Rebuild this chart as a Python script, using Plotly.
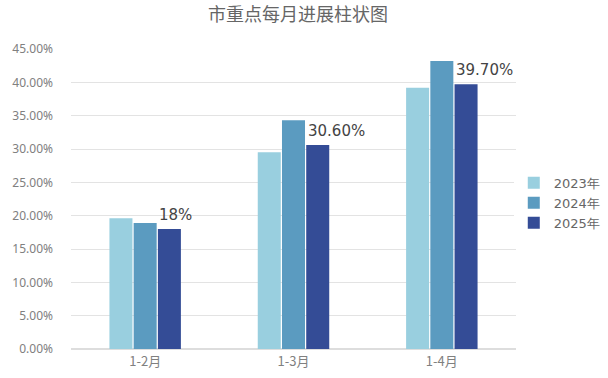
import plotly.graph_objects as go

categories = ["1-2月", "1-3月", "1-4月"]
series_names = ["2023年", "2024年", "2025年"]
values_2023 = [0.196, 0.295, 0.392]
values_2024 = [0.189, 0.343, 0.432]
values_2025 = [0.180, 0.306, 0.397]
labels_2025 = ["18%", "30.60%", "39.70%"]
colors = ["#99CFDF", "#5B9BC0", "#344C96"]
y_ticks = [0, 0.05, 0.10, 0.15, 0.20, 0.25, 0.30, 0.35, 0.40, 0.45]

fig = go.Figure()
for name, vals, col in zip(series_names, [values_2023, values_2024, values_2025], colors):
    fig.add_trace(go.Bar(x=categories, y=vals, name=name, marker=dict(color=col, line=dict(width=0)),
                         hoverinfo="skip"))

for cat, val, lab in zip(categories, values_2025, labels_2025):
    fig.add_annotation(x=cat, y=val, xref="x", yref="y", text=lab, showarrow=False,
                       xanchor="left", yanchor="bottom", xshift=12, yshift=3,
                       font=dict(family="DejaVu Sans", size=15, color="#444444"))

fig.update_layout(
    width=608, height=378,
    margin=dict(l=71, r=92, t=49, b=29, autoexpand=False),
    paper_bgcolor="white", plot_bgcolor="white",
    barmode="group", bargap=0.51, bargroupgap=0.05,
    title=dict(text="市重点每月进展柱状图", x=0.49, xanchor="center", y=0.962, yanchor="middle",
               font=dict(family="Noto Sans CJK SC", size=18, color="#666666")),
    legend=dict(x=0.995, xanchor="left", y=0.487, yanchor="middle", itemwidth=30,
                font=dict(family="DejaVu Sans", size=13, color="#666666"), tracegroupgap=0),
    showlegend=True,
)
fig.update_yaxes(range=[0, 0.45], tickvals=y_ticks, tickformat=".2%", showgrid=True,
                 gridcolor="#e3e3e3", gridwidth=1, zeroline=True, zerolinecolor="#dddddd",
                 tickfont=dict(family="Noto Sans", size=12, color="#808080"), ticks="",
                 ticklabelstandoff=17, showline=False)
fig.update_xaxes(showgrid=False, tickfont=dict(family="Noto Sans CJK SC", size=13, color="#808080"),
                 showline=True, linecolor="#dddddd", ticks="")

fig.write_html("out.html")
